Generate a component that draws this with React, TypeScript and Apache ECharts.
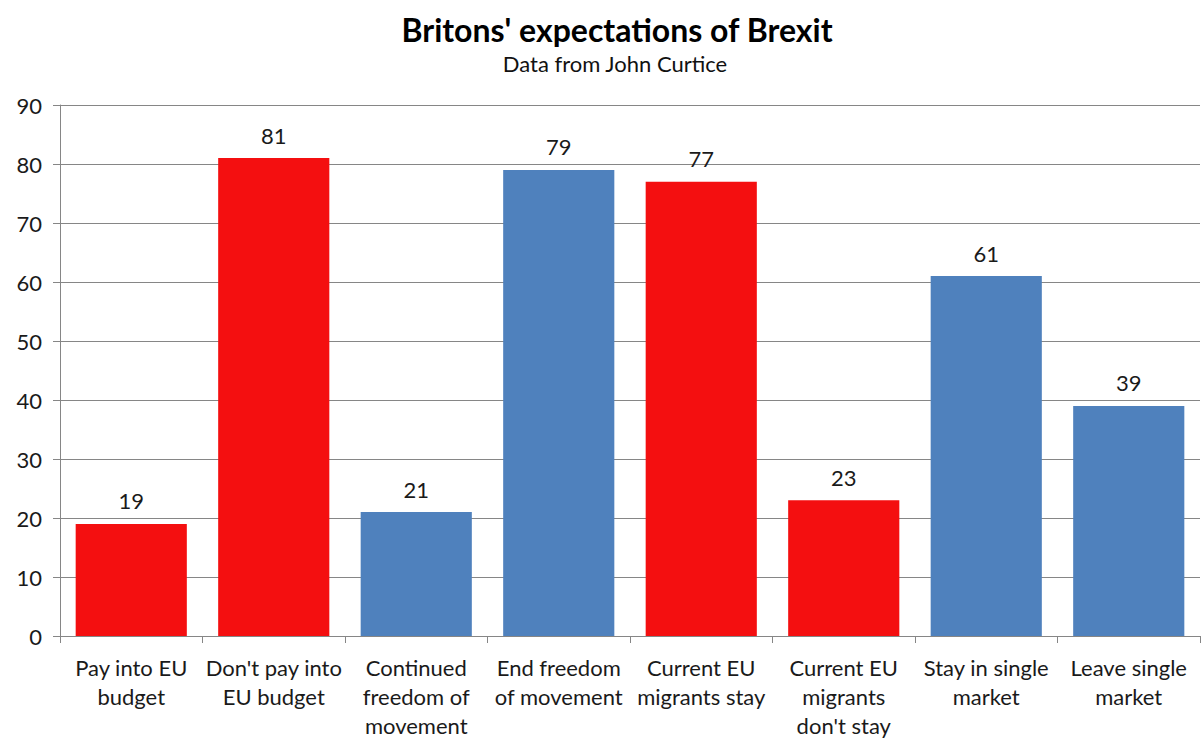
import React, { useEffect, useRef } from "react";
import * as echarts from "echarts";

const categories = [
  "Pay into EU\nbudget",
  "Don't pay into\nEU budget",
  "Continued\nfreedom of\nmovement",
  "End freedom\nof movement",
  "Current EU\nmigrants stay",
  "Current EU\nmigrants\ndon't stay",
  "Stay in single\nmarket",
  "Leave single\nmarket",
];
const values = [19, 81, 21, 79, 77, 23, 61, 39];
const barColors = ["#F40F10", "#F40F10", "#4F81BD", "#4F81BD", "#F40F10", "#F40F10", "#4F81BD", "#4F81BD"];
const yTicks = { min: 0, max: 90, interval: 10 };

const FONT = "Lato, 'Open Sans', sans-serif";

export default function App() {
  const ref = useRef<HTMLDivElement>(null);
  useEffect(() => {
    if (!ref.current) return;
    const chart = echarts.init(ref.current, null, { renderer: "svg" });
    chart.setOption({
      animation: false,
      backgroundColor: "#ffffff",
      title: [
        {
          text: "Britons' expectations of Brexit",
          left: 612,
          top: 8,
          textAlign: "center",
          textStyle: { fontFamily: FONT, fontWeight: "bold", fontSize: 32, color: "#000" },
        },
        {
          text: "Data from John Curtice",
          left: 610,
          top: 47,
          textAlign: "center",
          textStyle: { fontFamily: FONT, fontWeight: "normal", fontSize: 22, color: "#111" },
        },
      ],
      grid: { left: 60, right: 3, top: 105, bottom: 103, containLabel: false },
      xAxis: {
        type: "category",
        data: categories,
        axisLine: { lineStyle: { color: "#868686", width: 1 } },
        axisTick: { show: true, length: 7, lineStyle: { color: "#868686" } },
        axisLabel: {
          interval: 0,
          margin: 17,
          fontFamily: FONT,
          fontSize: 22,
          lineHeight: 29,
          color: "#1a1a1a",
        },
      },
      yAxis: {
        type: "value",
        min: yTicks.min,
        max: yTicks.max,
        interval: yTicks.interval,
        axisLine: { show: true, lineStyle: { color: "#868686", width: 1 } },
        axisTick: { show: true, length: 7, lineStyle: { color: "#868686" } },
        splitLine: { lineStyle: { color: "#868686", width: 1 } },
        axisLabel: { margin: 18, fontFamily: FONT, fontSize: 22, color: "#1a1a1a" },
      },
      series: [
        {
          type: "bar",
          data: values.map((v, i) => ({ value: v, itemStyle: { color: barColors[i] } })),
          barWidth: "78%",
          label: {
            show: true,
            position: "top",
            distance: 12,
            fontFamily: FONT,
            fontSize: 22,
            color: "#1a1a1a",
          },
        },
      ],
    });
    return () => chart.dispose();
  }, []);
  return (
    <div
      ref={ref}
      style={{ position: "absolute", left: 0, top: 0, width: 1203, height: 740, background: "#fff" }}
    />
  );
}
